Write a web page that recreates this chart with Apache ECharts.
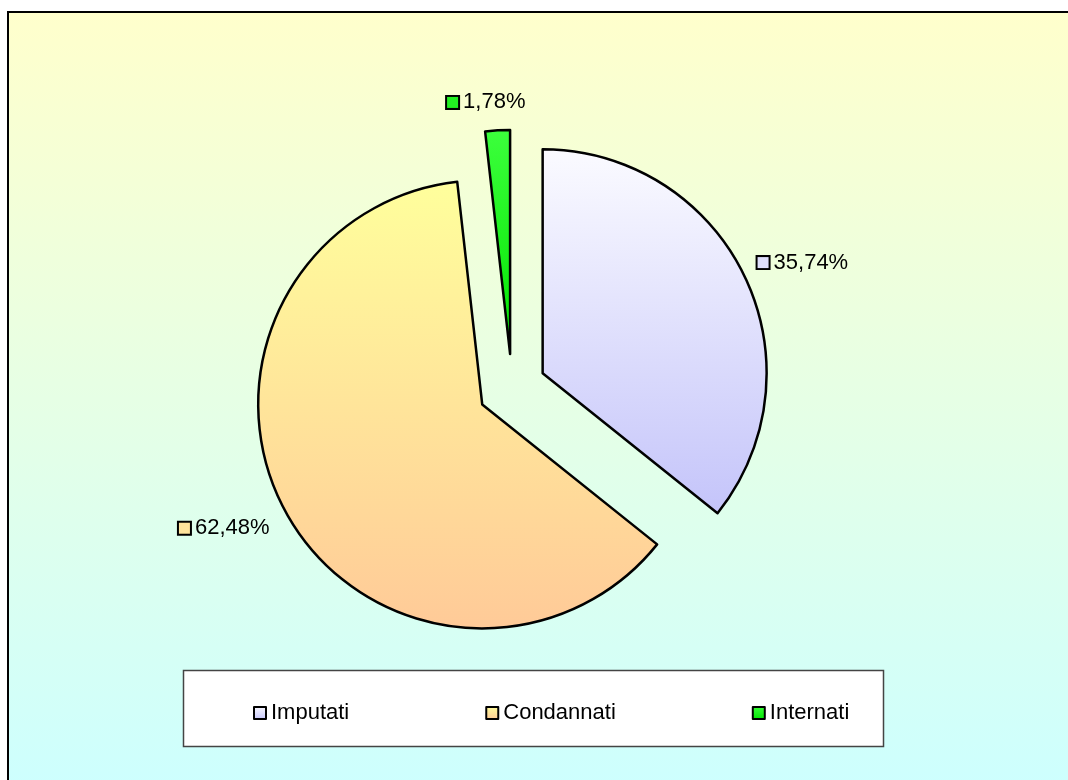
<!DOCTYPE html>
<html>
<head>
<meta charset="utf-8">
<title>Imputati / Condannati / Internati</title>
<script src="https://cdn.jsdelivr.net/npm/echarts@6/dist/echarts.min.js"></script>
<style>
  html, body { margin: 0; padding: 0; background: #fff; }
  #chart { width: 1068px; height: 780px; }
</style>
</head>
<body>
<div id="chart"></div>
<script>
// dati
const categories = ['Imputati', 'Condannati', 'Internati']
const values = [35.74, 62.48, 1.78]

// colori (sfumature dall'alto verso il basso)
const sliceTop = ['#fbfbff', '#ffff9c', '#3cff3c']
const sliceBottom = ['#c4c4fa', '#ffca98', '#00e600']
const keyColors = ['#dedefb', '#ffe49c', '#22f022']

const grad = (top, bottom) =>
  new echarts.graphic.LinearGradient(0, 0, 0, 1, [
    { offset: 0, color: top },
    { offset: 1, color: bottom },
  ])

const fmt = (v) => v.toFixed(2).replace('.', ',') + '%'

const chart = echarts.init(document.getElementById('chart'))

// piccoli spostamenti delle etichette (come nel grafico originale)
const nudge = [
  [-10, -5],
  [6, 6],
  [34, -8],
]

const options = {
  animation: false,
  textStyle: { fontFamily: '"Liberation Sans", Arial, sans-serif' },
  graphic: [
    {
      type: 'rect',
      z: -10,
      shape: { x: 8, y: 12, width: 1080, height: 790 },
      style: {
        fill: new echarts.graphic.LinearGradient(0, 0, 0, 1, [
          { offset: 0, color: '#ffffcc' },
          { offset: 1, color: '#ccffff' },
        ]),
        stroke: '#000',
        lineWidth: 2,
      },
    },
    {
      type: 'rect',
      z: -5,
      shape: { x: 183.5, y: 670.5, width: 700, height: 76 },
      style: { fill: '#fff', stroke: '#444', lineWidth: 1.5 },
    },
  ],
  legend: {
    left: 248,
    top: 697,
    itemGap: 136,
    itemWidth: 12,
    itemHeight: 12,
    icon: 'rect',
    itemStyle: { borderColor: '#000', borderWidth: 2 },
    textStyle: { fontSize: 22, color: '#000', lineHeight: 22 },
    data: categories,
  },
  series: [
    {
      type: 'pie',
      center: [512, 388],
      radius: 224,
      startAngle: 90,
      clockwise: true,
      selectedMode: 'multiple',
      selectedOffset: 34,
      avoidLabelOverlap: false,
      emphasis: { disabled: true },
      itemStyle: { borderColor: '#000', borderWidth: 2.5 },
      select: { itemStyle: { borderColor: '#000', borderWidth: 2.5 } },
      label: {
        show: true,
        position: 'outside',
        color: '#000',
        fontSize: 22,
        formatter: (p) => `{k${p.dataIndex}|}{v|${fmt(p.value)}}`,
        rich: Object.assign(
          { v: { fontSize: 22, color: '#000', padding: [0, 0, 0, 5] } },
          ...keyColors.map((c, i) => ({
            ['k' + i]: {
              width: 11,
              height: 11,
              backgroundColor: c,
              borderColor: '#000',
              borderWidth: 2,
            },
          }))
        ),
      },
      labelLine: { show: false, length: 20, length2: 0 },
      labelLayout: (params) => ({
        dx: nudge[params.dataIndex][0],
        dy: nudge[params.dataIndex][1],
      }),
      data: categories.map((name, i) => ({
        name,
        value: values[i],
        selected: true,
        itemStyle: { color: grad(sliceTop[i], sliceBottom[i]) },
      })),
    },
  ],
}

chart.setOption(options)
</script>
</body>
</html>
